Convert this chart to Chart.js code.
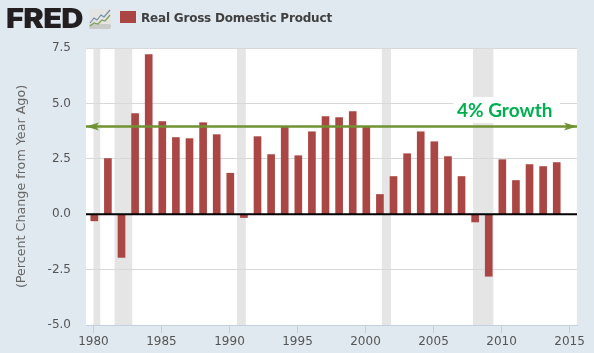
<!DOCTYPE html>
<html>
<head>
<meta charset="utf-8">
<title>Real Gross Domestic Product</title>
<script src="https://cdn.jsdelivr.net/npm/chart.js@4"></script>
<style>
  html, body { margin: 0; padding: 0; background: #e1e9f0; }
  #wrap { position: relative; width: 594px; height: 353px; overflow: hidden; }
  #gdpChart { position: absolute; left: 0; top: 0; }
  #logo { position: absolute; left: 6px; top: 1px; font: 900 27px/36px Inter, sans-serif; color: #231f20; letter-spacing: -0.6px; transform: scaleX(1.14); transform-origin: left center; }
  #spark { position: absolute; left: 89px; top: 9px; }
  #swatch { position: absolute; left: 120px; top: 11px; width: 16px; height: 12px; background: #aa4643; }
  #legendText { position: absolute; left: 141px; top: 10px; font: bold 12px/16px "DejaVu Sans", sans-serif; color: #404040; white-space: nowrap; letter-spacing: -0.2px; }
</style>
</head>
<body>
<div id="wrap">
  <canvas id="gdpChart" width="594" height="353"></canvas>
  <div id="logo">FRED</div>
  <svg id="spark" width="22" height="20" viewBox="0 0 22 20">
    <rect width="22" height="20" rx="2" fill="#e4e4e2"/>
    <rect y="15" width="22" height="5" rx="2" fill="#c9cbc8"/>
    <polyline points="1,14 5,9 8,11 12,6 15,8 21,1" fill="none" stroke="#6d8fa8" stroke-width="1.2"/>
    <polyline points="1,17 5,14 9,15 13,11 16,12 21,6" fill="none" stroke="#7f9f5a" stroke-width="1.2"/>
  </svg>
  <div id="swatch"></div>
  <div id="legendText">Real Gross Domestic Product</div>
</div>
<script>
const years = [1980, 1981, 1982, 1983, 1984, 1985, 1986, 1987, 1988, 1989,
  1990, 1991, 1992, 1993, 1994, 1995, 1996, 1997, 1998, 1999,
  2000, 2001, 2002, 2003, 2004, 2005, 2006, 2007, 2008, 2009,
  2010, 2011, 2012, 2013, 2014];
const growth = [-0.3, 2.51, -1.95, 4.54, 7.2, 4.18, 3.46, 3.41, 4.13, 3.59,
  1.85, -0.15, 3.5, 2.69, 3.95, 2.64, 3.72, 4.4, 4.36, 4.63,
  3.95, 0.89, 1.7, 2.73, 3.72, 3.27, 2.6, 1.7, -0.35, -2.8,
  2.46, 1.52, 2.24, 2.15, 2.33];
const recessionStarts = [1980.0, 1981.55, 1990.55, 2001.2, 2007.9];
const recessionEnds = [1980.5, 1982.85, 1991.2, 2001.87, 2009.4];
const xMin = 1979.45;
const xMax = 2015.55;
const growthLine = 3.96;
const growthLabel = "4% Growth";
const yAxisTitle = "(Percent Change from Year Ago)";

const GREEN = "#6f9232";

// recession bands sit under the grid lines
const bandsPlugin = {
  id: "bands",
  beforeDraw(chart) {
    const { ctx, chartArea, scales } = chart;
    ctx.save();
    ctx.fillStyle = "#ffffff";
    ctx.fillRect(chartArea.left, chartArea.top, chartArea.width, chartArea.height);
    ctx.fillStyle = "#e5e5e5";
    recessionStarts.forEach((s, i) => {
      const a = scales.x.getPixelForValue(s);
      const b = scales.x.getPixelForValue(recessionEnds[i]);
      ctx.fillRect(a, chartArea.top, b - a, chartArea.height);
    });
    ctx.restore();
  },
};

// arrow heads on the 4% line and its label
const arrowPlugin = {
  id: "arrows",
  afterDatasetsDraw(chart) {
    const { ctx, chartArea, scales } = chart;
    const y = scales.y.getPixelForValue(growthLine);
    const head = (tip, dir) => {
      ctx.beginPath();
      ctx.moveTo(tip, y);
      ctx.lineTo(tip + dir * 13, y - 4);
      ctx.lineTo(tip + dir * 10, y);
      ctx.lineTo(tip + dir * 13, y + 4);
      ctx.closePath();
      ctx.fill();
    };
    ctx.save();
    ctx.fillStyle = GREEN;
    head(chartArea.left, 1);
    head(chartArea.right, -1);
    ctx.fillStyle = "#ffffff";
    ctx.fillRect(453, 97, 107, 26);
    ctx.font = "bold 19px Lato, sans-serif";
    ctx.fillStyle = "#00b050";
    ctx.textAlign = "left";
    ctx.textBaseline = "alphabetic";
    ctx.fillText(growthLabel, 457, 117);
    ctx.restore();
  },
};

new Chart(document.getElementById("gdpChart").getContext("2d"), {
  type: "bar",
  plugins: [bandsPlugin, arrowPlugin],
  data: {
    datasets: [
      {
        type: "line",
        data: [{ x: xMin, y: 0 }, { x: xMax, y: 0 }],
        borderColor: "#000000",
        borderWidth: 2,
        pointRadius: 0,
        order: 1,
      },
      {
        type: "line",
        data: [{ x: xMin, y: growthLine }, { x: xMax, y: growthLine }],
        borderColor: GREEN,
        borderWidth: 2.5,
        pointRadius: 0,
        order: 0,
      },
      {
        label: "Real Gross Domestic Product",
        data: years.map((yr, i) => ({ x: yr + 0.06, y: growth[i] })),
        backgroundColor: "#aa4643",
        barThickness: 7,
        order: 2,
      },
    ],
  },
  options: {
    responsive: false,
    animation: false,
    layout: { padding: { top: 48, right: 17, left: 0, bottom: 0 } },
    plugins: { legend: { display: false }, tooltip: { enabled: false } },
    scales: {
      x: {
        type: "linear",
        offset: false,
        min: xMin,
        max: xMax,
        afterFit(scale) { scale.height = 28; },
        border: { color: "#c0d0e0", width: 1 },
        grid: { drawOnChartArea: false, offset: false, color: "#c0d0e0", tickLength: 8 },
        ticks: {
          stepSize: 5,
          includeBounds: false,
          maxRotation: 0,
          padding: 2,
          color: "#555555",
          font: { family: "DejaVu Sans", size: 12 },
          callback: (v) => String(v),
        },
      },
      y: {
        min: -5,
        max: 7.5,
        afterFit(scale) { scale.width = 86; },
        border: { display: false },
        grid: { color: "#d8d8d8", tickLength: 0 },
        ticks: {
          stepSize: 2.5,
          padding: 15,
          color: "#555555",
          font: { family: "DejaVu Sans", size: 12 },
          callback: (v) => v.toFixed(1),
        },
        title: {
          display: true,
          text: yAxisTitle,
          color: "#666666",
          padding: { top: 14, bottom: 0 },
          font: { family: "DejaVu Sans", size: 12.7 },
        },
      },
    },
  },
});
</script>
</body>
</html>
